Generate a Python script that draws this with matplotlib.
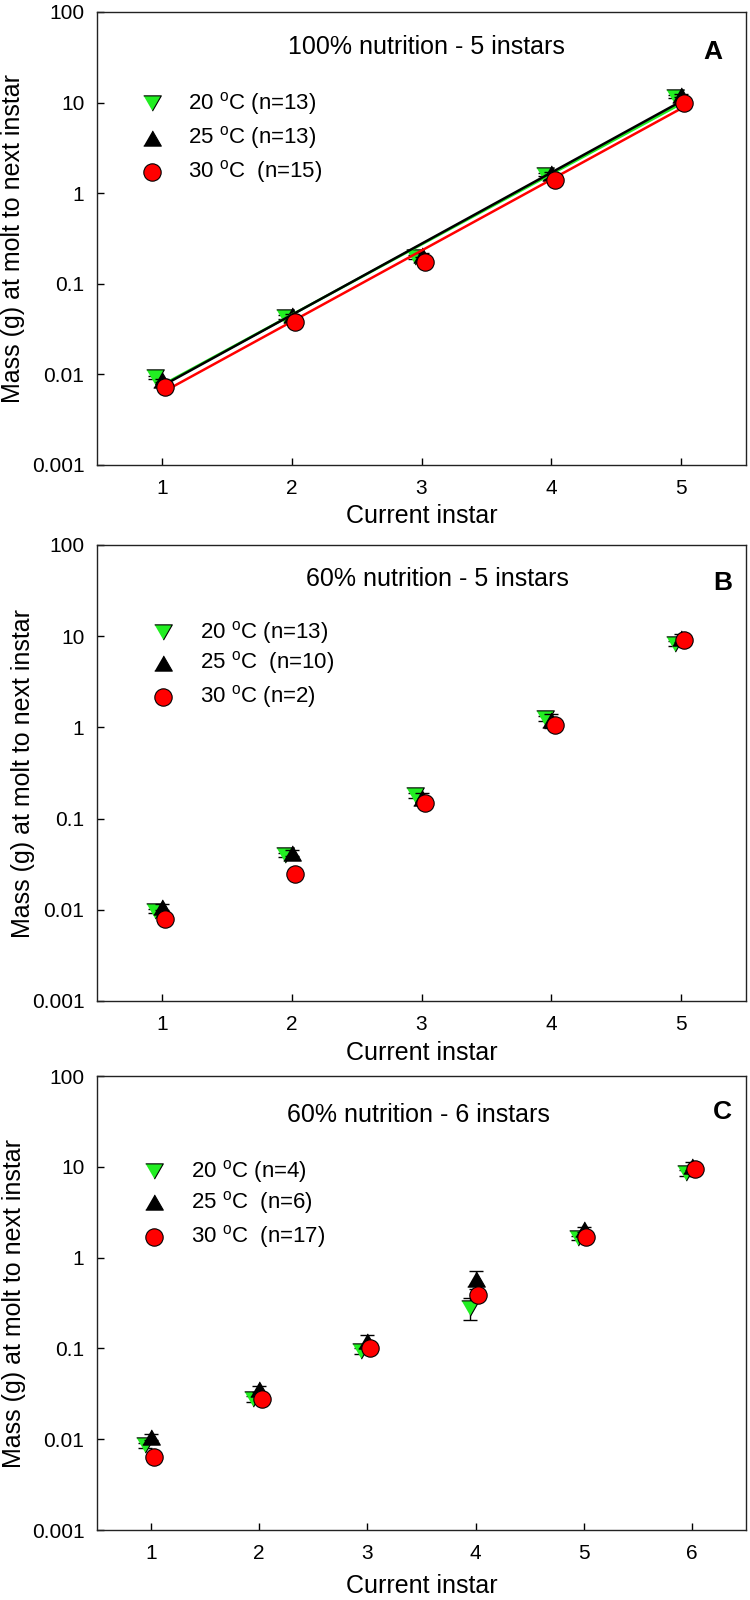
import numpy as np
import matplotlib
matplotlib.use("Agg")
import matplotlib.pyplot as plt

plt.rcParams['font.family'] = ['Liberation Sans', 'DejaVu Sans']
plt.rcParams['mathtext.fontset'] = 'custom'
plt.rcParams['mathtext.rm'] = 'Liberation Sans'
plt.rcParams['mathtext.it'] = 'Liberation Sans:italic'
plt.rcParams['mathtext.bf'] = 'Liberation Sans:bold'
plt.rcParams['mathtext.default'] = 'regular'

# ---------------- data ----------------
instars5 = [1, 2, 3, 4, 5]
instars6 = [1, 2, 3, 4, 5, 6]

# Panel A: 100% nutrition - 5 instars
a20 = [0.0093, 0.043, 0.20, 1.60, 11.6]
a25 = [0.0086, 0.045, 0.21, 1.66, 12.0]
a30 = [0.0073, 0.038, 0.175, 1.40, 10.0]
a20_se = [0.0004, 0.002, 0.01, 0.06, 0.4]
a25_se = [0.0004, 0.002, 0.01, 0.06, 0.4]
a30_se = [0.0003, 0.001, 0.008, 0.05, 0.3]

# Panel B: 60% nutrition - 5 instars
b20 = [0.0098, 0.040, 0.18, 1.27, 8.3]
b25 = [0.0108, 0.042, 0.17, 1.20, 9.6]
b30 = [0.0079, 0.025, 0.147, 1.05, 9.0]
b20_se = [0.0005, 0.002, 0.01, 0.08, 0.5]
b25_se = [0.0008, 0.003, 0.02, 0.21, 1.0]
b30_se = [0.0004, 0.001, 0.008, 0.05, 0.3]

# Panel C: 60% nutrition - 6 instars
c20 = [0.0086, 0.028, 0.094, 0.28, 1.65, 8.6]
c25 = [0.0107, 0.036, 0.12, 0.585, 2.05, 10.3]
c30 = [0.0064, 0.028, 0.10, 0.39, 1.70, 9.4]
c20_se = [0.0005, 0.002, 0.008, 0.075, 0.1, 0.6]
c25_se = [0.0008, 0.003, 0.02, 0.13, 0.15, 1.0]
c30_se = [0.0003, 0.001, 0.005, 0.03, 0.1, 0.4]

titles = ["100% nutrition - 5 instars", "60% nutrition - 5 instars", "60% nutrition - 6 instars"]
letters = ["A", "B", "C"]
legend_A = ["20 $^{o}$C (n=13)", "25 $^{o}$C (n=13)", "30 $^{o}$C  (n=15)"]
legend_B = ["20 $^{o}$C (n=13)", "25 $^{o}$C  (n=10)", "30 $^{o}$C (n=2)"]
legend_C = ["20 $^{o}$C (n=4)", "25 $^{o}$C  (n=6)", "30 $^{o}$C  (n=17)"]
ytick_vals = [0.001, 0.01, 0.1, 1, 10, 100]
ytick_labels = ["0.001", "0.01", "0.1", "1", "10", "100"]
xlabel = "Current instar"
ylabel = "Mass (g) at molt to next instar"

# ---------------- style ----------------
GREEN = '#22ee22'
RED = '#ff0000'
BLACK = '#000000'
tri_up = [(-1, -0.866), (1, -0.866), (0, 0.866)]
tri_down = [(-1, 0.866), (1, 0.866), (0, -0.866)]
MS_TRI = 12.7
MS_CIRC = 12.5

fig = plt.figure(figsize=(7.5, 16), dpi=100)

panels = [
    dict(rect=[97/750, 1-465/1600, 649/750, 453/1600], x=instars5,
         d=(a20, a25, a30), e=(a20_se, a25_se, a30_se), leg=legend_A,
         title_xy=(0.508, 0.923), letter_xy=(0.949, 0.912),
         leg_x=0.0843, leg_tx=0.140, leg_y=(0.799, 0.722, 0.647),
         ylab_x=-0.111, xlab_y=-0.086, fit=True, dx=(-0.05, 0.0, 0.025)),
    dict(rect=[97/750, 1-1001/1600, 649/750, 456/1600], x=instars5,
         d=(b20, b25, b30), e=(b20_se, b25_se, b30_se), leg=legend_B,
         title_xy=(0.525, 0.925), letter_xy=(0.964, 0.917),
         leg_x=0.101, leg_tx=0.158, leg_y=(0.809, 0.742, 0.667),
         ylab_x=-0.095, xlab_y=-0.088, fit=False, dx=(-0.05, 0.0, 0.025)),
    dict(rect=[97/750, 1-1530/1600, 649/750, 454/1600], x=instars6,
         d=(c20, c25, c30), e=(c20_se, c25_se, c30_se), leg=legend_C,
         title_xy=(0.495, 0.913), letter_xy=(0.964, 0.920),
         leg_x=0.0878, leg_tx=0.145, leg_y=(0.790, 0.722, 0.646),
         ylab_x=-0.109, xlab_y=-0.098, fit=False, dx=(-0.055, 0.0, 0.025)),
]

for i, p in enumerate(panels):
    ax = fig.add_axes(p['rect'])
    x = np.array(p['x'], dtype=float)
    colors = (GREEN, BLACK, RED)
    markers = (tri_down, tri_up, 'o')
    sizes = (MS_TRI, MS_TRI, MS_CIRC)
    zs = (3, 4, 6)

    # regression lines (panel A)
    if p['fit']:
        for (yv, c, z) in zip(p['d'], colors, (5, 5.1, 5.2)):
            coef = np.polyfit(x, np.log10(yv), 1)
            xs = np.array([x.min(), x.max()])
            ax.plot(xs, 10 ** np.polyval(coef, xs), color=c, lw=1.8, zorder=z,
                    solid_capstyle='butt')

    for k in range(3):
        xk = x + p['dx'][k]
        ax.errorbar(xk, p['d'][k], yerr=p['e'][k], fmt='none', ecolor='black',
                    elinewidth=1.0, capsize=5, capthick=1.0, zorder=zs[k] - 0.5)
        ax.plot(xk, p['d'][k], linestyle='none', marker=markers[k], ms=sizes[k],
                mfc=colors[k], mec='black', mew=0.8, zorder=zs[k])

    # legend (manual)
    for k in range(3):
        ax.plot([p['leg_x']], [p['leg_y'][k]], transform=ax.transAxes,
                linestyle='none', marker=markers[k], ms=sizes[k], mfc=colors[k],
                mec='black', mew=0.8, clip_on=False)
        ax.text(p['leg_tx'], p['leg_y'][k], p['leg'][k], transform=ax.transAxes,
                fontsize=16, ha='left', va='center')

    ax.text(p['title_xy'][0], p['title_xy'][1], titles[i], transform=ax.transAxes,
            fontsize=18, ha='center', va='center')
    ax.text(p['letter_xy'][0], p['letter_xy'][1], letters[i], transform=ax.transAxes,
            fontsize=19, fontweight='bold', ha='center', va='center')

    ax.set_yscale('log')
    ax.set_ylim(0.001, 100)
    ax.set_xlim(x.min() - 0.5, x.max() + 0.5)
    ax.set_yticks(ytick_vals)
    ax.set_yticklabels(ytick_labels)
    ax.yaxis.set_minor_locator(matplotlib.ticker.NullLocator())
    ax.set_xticks(x)
    ax.set_xticklabels([str(int(v)) for v in x])
    ax.tick_params(direction='in', length=5, width=1, labelsize=15,
                   top=False, right=False)
    ax.tick_params(axis='x', pad=10)
    ax.tick_params(axis='y', pad=9)
    for s in ax.spines.values():
        s.set_linewidth(1.0)
        s.set_color('#222222')

    ax.set_ylabel(ylabel, fontsize=18)
    ax.set_xlabel(xlabel, fontsize=18)
    ax.yaxis.set_label_coords(p['ylab_x'], 0.5)
    ax.xaxis.set_label_coords(0.5, p['xlab_y'])

fig.savefig('out.png', dpi=100)
